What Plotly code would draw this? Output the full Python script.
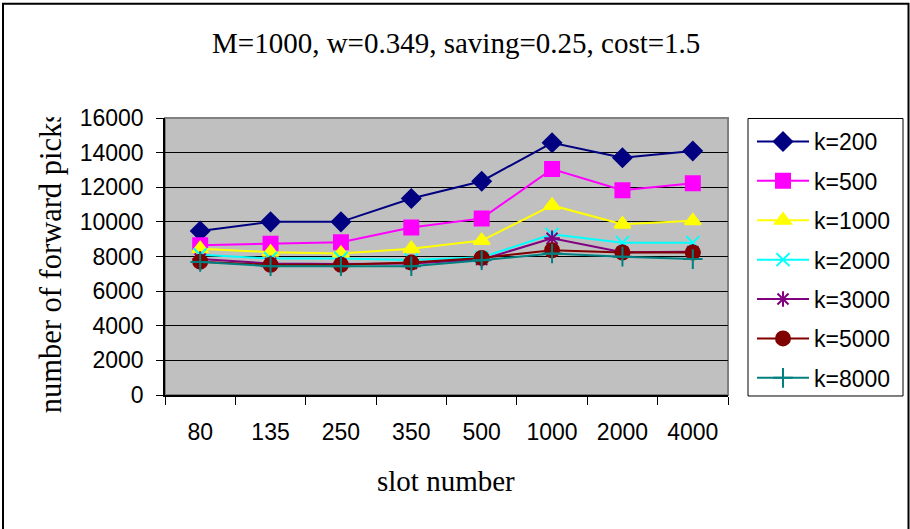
import plotly.graph_objects as go

# slot numbers on the category axis
slots = ["80", "135", "250", "350", "500", "1000", "2000", "4000"]

# number of forward picks for each k
k200 = [9470, 10000, 10000, 11350, 12350, 14570, 13700, 14100]
k500 = [8650, 8730, 8830, 9680, 10200, 13050, 11830, 12230]
k1000 = [8450, 8250, 8180, 8450, 8920, 10950, 9870, 10060]
k2000 = [8100, 7880, 7880, 7800, 7950, 9280, 8800, 8800]
k3000 = [7850, 7600, 7560, 7600, 7820, 9050, 8250, 8270]
k5000 = [7700, 7520, 7520, 7650, 7920, 8360, 8230, 8230]
k8000 = [7680, 7440, 7440, 7440, 7780, 8170, 7990, 7850]

series_names = ["k=200", "k=500", "k=1000", "k=2000", "k=3000", "k=5000", "k=8000"]
series_values = [k200, k500, k1000, k2000, k3000, k5000, k8000]

colors = ["#000080", "#FF00FF", "#FFFF00", "#00FFFF", "#800080", "#800000", "#008080"]
symbols = ["diamond", "square", "triangle-up", "x-thin-open", "asterisk-open",
           "circle", "cross-thin-open"]
sizes = [14, 14, 14, 13, 13, 14, 14]

W, H = 910, 529
L, R, T, B = 165, 182, 117.5, 134
pw, ph = W - L - R, H - T - B


def px_x(x):
    return (x - L) / pw


def px_y(y):
    return (H - B - y) / ph


SANS = "Arial, Liberation Sans, sans-serif"
SERIF = "Times New Roman, Liberation Serif, serif"

fig = go.Figure()
for i, (name, vals) in enumerate(zip(series_names, series_values)):
    fig.add_trace(go.Scatter(
        x=slots, y=vals, name=name, mode="lines+markers",
        legendgroup=name,
        line=dict(color=colors[i], width=2),
        marker=dict(symbol=symbols[i], size=sizes[i], color=colors[i],
                    line=dict(color=colors[i], width=2)),
    ))

fig.update_layout(
    width=W, height=H,
    margin=dict(l=L, r=R, t=T, b=B, pad=0),
    paper_bgcolor="white",
    plot_bgcolor="#C0C0C0",
    showlegend=True,
    legend=dict(
        xref="container", yref="container",
        x=752 / W, y=1 - 120 / H, xanchor="left", yanchor="top",
        bgcolor="rgba(0,0,0,0)", borderwidth=0,
        font=dict(family=SANS, size=23, color="black"),
        tracegroupgap=6.5, itemwidth=52, maxheight=420,
    ),
    xaxis=dict(
        type="category", tickson="boundaries",
        showgrid=False, showline=True, linecolor="black", linewidth=1.5,
        ticks="outside", ticklen=8, tickcolor="black", tickwidth=1,
        tickfont=dict(family=SANS, size=23, color="black"),
        ticklabelstandoff=16,
        range=[-0.5, 7.5], zeroline=False,
    ),
    yaxis=dict(
        range=[0, 16000], dtick=2000, tickformat="d",
        showgrid=True, gridcolor="black", gridwidth=1,
        showline=True, linecolor="black", linewidth=1.5,
        ticks="outside", ticklen=7, tickcolor="black", tickwidth=1,
        tickfont=dict(family=SANS, size=23, color="black"),
        ticklabelstandoff=8, zeroline=False,
    ),
    shapes=[
        # plot area frame (grey on top and right)
        dict(type="rect", xref="paper", yref="paper", x0=0, x1=1, y0=0, y1=1,
             line=dict(color="#808080", width=2), layer="below"),
        # legend box
        dict(type="rect", xref="paper", yref="paper",
             x0=px_x(748), x1=px_x(903), y0=px_y(396), y1=px_y(118),
             line=dict(color="black", width=1), fillcolor="white", layer="below"),
        # outer chart border
        dict(type="rect", xref="paper", yref="paper",
             x0=px_x(3), x1=px_x(908.5), y0=px_y(535), y1=px_y(3),
             line=dict(color="black", width=2), layer="below"),
    ],
    annotations=[
        dict(text="M=1000, w=0.349, saving=0.25, cost=1.5", xref="paper", yref="paper",
             x=px_x(456), y=px_y(42), xanchor="center", yanchor="middle",
             showarrow=False, font=dict(family=SERIF, size=29, color="black")),
        dict(text="slot number", xref="paper", yref="paper",
             x=px_x(446), y=px_y(481), xanchor="center", yanchor="middle",
             showarrow=False, font=dict(family=SERIF, size=29, color="black")),
        dict(text="number of forward picks", xref="paper", yref="paper",
             x=px_x(51), y=px_y(265), xanchor="center", yanchor="middle",
             textangle=-90, width=296, height=40, align="left", borderpad=0,
             showarrow=False, font=dict(family=SERIF, size=30.5, color="black")),
    ],
)

fig.write_html("out.html")
